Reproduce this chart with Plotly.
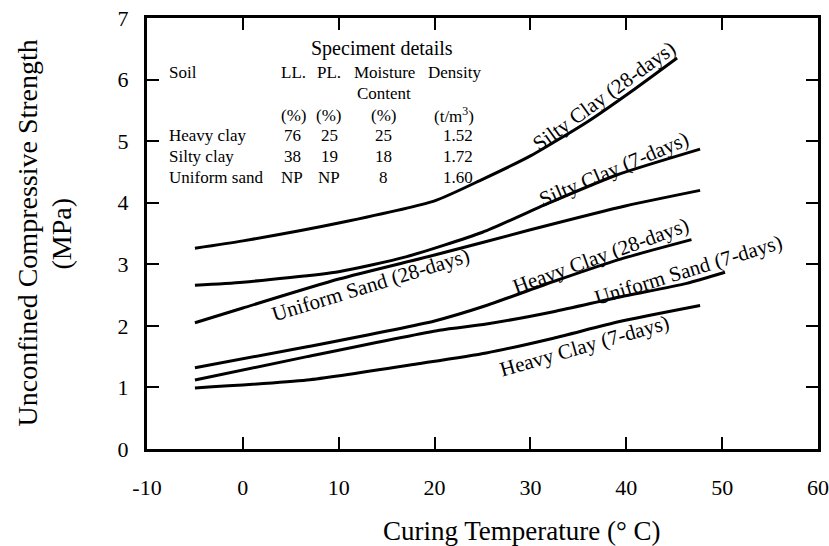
import plotly.graph_objects as go

# ---------------- data ----------------
temp_silty28 = [-5, 0, 10, 20, 25, 30, 36, 41, 45.3]
ucs_silty28 = [3.26, 3.38, 3.67, 4.03, 4.38, 4.76, 5.32, 5.86, 6.35]

temp_silty7 = [-5, 0, 10, 17, 25, 32, 39, 47.7]
ucs_silty7 = [2.66, 2.71, 2.88, 3.12, 3.52, 4.0, 4.45, 4.87]

temp_sand28 = [-5, 0, 10, 20, 30, 40, 47.7]
ucs_sand28 = [2.05, 2.29, 2.76, 3.15, 3.56, 3.95, 4.2]

temp_heavy28 = [-5, 6.7, 20, 25.4, 32.4, 39.3, 46.8]
ucs_heavy28 = [1.32, 1.66, 2.08, 2.33, 2.72, 3.08, 3.4]

temp_sand7 = [-5, 6.7, 20.5, 25.4, 32.4, 39.3, 46.3, 50.3]
ucs_sand7 = [1.12, 1.50, 1.93, 2.03, 2.23, 2.47, 2.69, 2.87]

temp_heavy7 = [-5, 6.7, 18.5, 25.4, 32.4, 39.3, 47.7]
ucs_heavy7 = [0.99, 1.12, 1.39, 1.56, 1.80, 2.07, 2.33]

curve_labels = ["Silty Clay (28-days)", "Silty Clay (7-days)", "Uniform Sand (28-days)",
                "Heavy Clay (28-days)", "Uniform Sand (7-days)", "Heavy Clay (7-days)"]

x_tick_values = [-10, 0, 10, 20, 30, 40, 50, 60]
x_tick_labels = ["-10", "0", "10", "20", "30", "40", "50", "60"]
y_tick_values = [0, 1, 2, 3, 4, 5, 6, 7]
y_tick_labels = ["0", "1", "2", "3", "4", "5", "6", "7"]

table_soils = ["Heavy clay", "Silty clay", "Uniform sand"]
table_ll = ["76", "38", "NP"]
table_pl = ["25", "19", "NP"]
table_mc = ["25", "18", "8"]
table_density = ["1.52", "1.72", "1.60"]

# ---------------- geometry helpers ----------------
L, R, T, B = 147, 818, 18, 449
W, H = 829, 546
XMIN, XMAX, YMIN, YMAX = -10, 60, 0, 7


def px2x(px):
    return XMIN + (px - L) / (R - L) * (XMAX - XMIN)


def py2y(py):
    return YMIN + (B - py) / (B - T) * (YMAX - YMIN)


FONT = "Liberation Serif, Times New Roman, serif"

fig = go.Figure()
series = [(temp_silty28, ucs_silty28), (temp_silty7, ucs_silty7), (temp_sand28, ucs_sand28),
          (temp_heavy28, ucs_heavy28), (temp_sand7, ucs_sand7), (temp_heavy7, ucs_heavy7)]
for (xs, ys), name in zip(series, curve_labels):
    fig.add_trace(go.Scatter(x=xs, y=ys, mode="lines", name=name,
                             line=dict(color="black", width=3, shape="spline", smoothing=0.6),
                             showlegend=False, hoverinfo="skip"))

ann = []
# curve labels (center px, angle)
label_pos = [(604, 96, -36), (614, 169, -23), (370, 285, -17),
             (600, 256, -20), (688, 270, -17), (584, 346, -16)]
for text, (px, py, ang) in zip(curve_labels, label_pos):
    ann.append(dict(x=px2x(px), y=py2y(py), xref="x", yref="y", text=text, showarrow=False,
                    textangle=ang, font=dict(family=FONT, size=21, color="black"),
                    xanchor="center", yanchor="middle"))

# table
def tx(text, px, py, size=17, anchor="center"):
    ann.append(dict(x=px2x(px), y=py2y(py), xref="x", yref="y", text=text, showarrow=False,
                    font=dict(family=FONT, size=size, color="black"),
                    xanchor=anchor, yanchor="middle"))

tx("Speciment details", 382, 48, size=20)
tx("Soil", 167, 72, anchor="left")
tx("LL.", 293, 72)
tx("PL.", 329, 72)
tx("Moisture", 384, 72)
tx("Density", 454, 72)
tx("Content", 384, 93)
tx("(%)", 293, 115)
tx("(%)", 328, 115)
tx("(%)", 383, 115)
tx("(t/m<sup>3</sup>)", 454, 115)
row_py = [135, 156, 177]
for i, py in enumerate(row_py):
    tx(table_soils[i], 167, py, anchor="left")
    tx(table_ll[i], 292, py)
    tx(table_pl[i], 329, py)
    tx(table_mc[i], 383, py)
    tx(table_density[i], 458, py)

# axis titles
ann.append(dict(x=0, y=0.5, xref="paper", yref="paper", xshift=27 - L, text="Unconfined Compressive Strength",
                showarrow=False, textangle=-90, font=dict(family=FONT, size=28, color="black"),
                xanchor="center", yanchor="middle"))
ann.append(dict(x=0, y=0.5, xref="paper", yref="paper", xshift=61 - L, text="(MPa)",
                showarrow=False, textangle=-90, font=dict(family=FONT, size=28, color="black"),
                xanchor="center", yanchor="middle"))
ann.append(dict(x=px2x(522), y=0, xref="x", yref="paper", yshift=-(531 - B), text="Curing Temperature (° C)",
                showarrow=False, font=dict(family=FONT, size=27, color="black"),
                xanchor="center", yanchor="middle"))

axis_common = dict(showline=True, linecolor="black", linewidth=3, mirror="allticks",
                   ticks="inside", ticklen=12, tickwidth=2, tickcolor="black",
                   showgrid=False, zeroline=False, automargin=False,
                   tickfont=dict(family=FONT, size=22, color="black"))

fig.update_layout(
    width=W, height=H,
    margin=dict(l=L, r=W - R, t=T, b=H - B, pad=0, autoexpand=False),
    paper_bgcolor="white", plot_bgcolor="white",
    xaxis=dict(range=[XMIN, XMAX], tickmode="array", tickvals=x_tick_values, ticktext=x_tick_labels,
               ticklabelstandoff=17, **axis_common),
    yaxis=dict(range=[YMIN, YMAX], tickmode="array", tickvals=y_tick_values, ticktext=y_tick_labels,
               ticklabelstandoff=11, **axis_common),
    annotations=ann,
)

fig.write_html("out.html", config={"displayModeBar": False},
               post_script="document.body.style.margin='0';document.body.style.overflow='hidden';")
